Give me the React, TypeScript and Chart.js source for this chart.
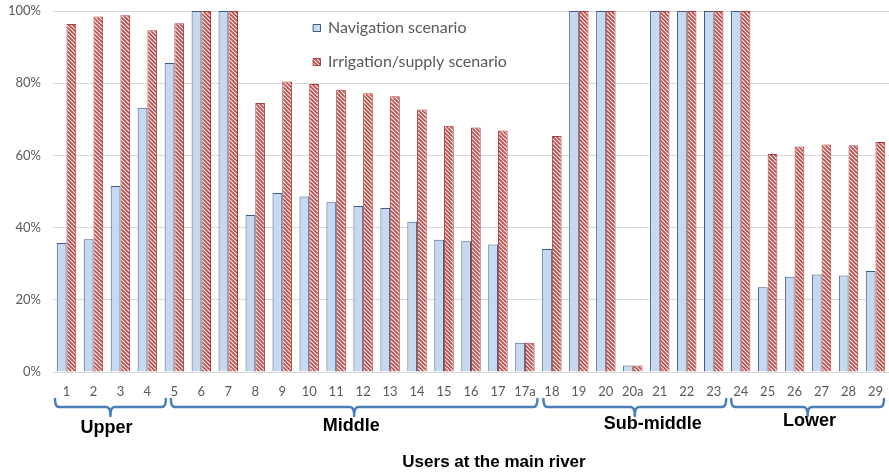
import { useEffect, useRef } from 'react';
import { Chart, registerables } from 'chart.js';

Chart.register(...registerables);

const categories = ['1', '2', '3', '4', '5', '6', '7', '8', '9', '10', '11', '12', '13', '14', '15', '16', '17', '17a', '18', '19', '20', '20a', '21', '22', '23', '24', '25', '26', '27', '28', '29'];
const navigation = [35.7, 36.8, 51.5, 73.2, 85.6, 100, 100, 43.5, 49.6, 48.6, 47, 46, 45.4, 41.6, 36.6, 36.2, 35.3, 8.1, 34.1, 100, 100, 1.8, 100, 100, 100, 100, 23.5, 26.4, 27, 26.7, 28];
const irrigation = [96.4, 98.5, 98.8, 94.7, 96.6, 100, 100, 74.5, 80.5, 79.8, 78.2, 77.2, 76.4, 72.7, 68.2, 67.7, 66.9, 8.1, 65.4, 100, 100, 1.8, 100, 100, 100, 100, 60.4, 62.5, 63, 62.8, 63.7];
const seriesNames = ['Navigation scenario', 'Irrigation/supply scenario'];
const groupNames = ['Upper', 'Middle', 'Sub-middle', 'Lower'];
const groupFirst = ['1', '5', '18', '24'];
const groupLast = ['4', '17a', '23', '29'];
const xTitle = 'Users at the main river';
const yMin = 0;
const yMax = 100;
const yStep = 20;

function makeHatch(): CanvasPattern | string {
  const c = document.createElement('canvas');
  c.width = 4;
  c.height = 4;
  const g = c.getContext('2d');
  if (!g) return '#c0504d';
  g.fillStyle = '#ffffff';
  g.fillRect(0, 0, 4, 4);
  g.strokeStyle = '#c0504d';
  g.lineWidth = 1.9;
  g.beginPath();
  g.moveTo(-1, -1);
  g.lineTo(5, 5);
  g.moveTo(-1, 3);
  g.lineTo(1, 5);
  g.moveTo(3, -1);
  g.lineTo(5, 1);
  g.stroke();
  const p = g.createPattern(c, 'repeat');
  return p || '#c0504d';
}

const FONT = 'Lato, "Open Sans", sans-serif';
const BOLD = '"Liberation Sans", Arial, sans-serif';

export default function App() {
  const ref = useRef<HTMLCanvasElement | null>(null);

  useEffect(() => {
    document.body.style.margin = '0';
    const canvas = ref.current;
    if (!canvas) return;
    const hatch = makeHatch();

    const decor = {
      id: 'decor',
      afterDraw(chart: any) {
        const ctx = chart.ctx as CanvasRenderingContext2D;
        const x = chart.scales.x;
        const area = chart.chartArea;
        const cw = (area.right - area.left) / categories.length;
        ctx.save();
        // brackets
        const labelDx = [-4, -3, 18, 2];
        const labelY = [428, 426, 424, 421];
        const startInset = [2, 10, 5, 4];
        const endInset = [-5, 1, 1, 5];
        groupNames.forEach((name, i) => {
          const a = categories.indexOf(groupFirst[i]);
          const b = categories.indexOf(groupLast[i]);
          const l = x.getPixelForValue(a) - cw / 2 + startInset[i];
          const r = x.getPixelForValue(b) + cw / 2 - endInset[i];
          const c = (l + r) / 2;
          const yt = 399;
          const yh = 407;
          const yb = 416;
          ctx.strokeStyle = '#4a7ebb';
          ctx.lineWidth = 2.5;
          ctx.lineCap = 'round';
          ctx.lineJoin = 'round';
          ctx.beginPath();
          ctx.moveTo(l, yt);
          ctx.quadraticCurveTo(l, yh, l + 4, yh);
          ctx.lineTo(c - 4, yh);
          ctx.quadraticCurveTo(c, yh, c, yb);
          ctx.moveTo(c, yb);
          ctx.quadraticCurveTo(c, yh, c + 4, yh);
          ctx.lineTo(r - 4, yh);
          ctx.quadraticCurveTo(r, yh, r, yt);
          ctx.stroke();
          ctx.fillStyle = '#000000';
          ctx.font = `bold 18px ${BOLD}`;
          ctx.textAlign = 'center';
          ctx.textBaseline = 'middle';
          ctx.fillText(name, c + labelDx[i], labelY[i]);
        });
        // axis title
        ctx.font = `bold 17px ${BOLD}`;
        ctx.fillStyle = '#000000';
        ctx.textAlign = 'center';
        ctx.textBaseline = 'middle';
        ctx.fillText(xTitle, (area.left + area.right) / 2 + 23, 462);
        // legend
        const items = chart.data.datasets;
        ctx.fillStyle = '#ffffff';
        ctx.fillRect(300, 13, 265, 68);
        items.forEach((ds: any, i: number) => {
          const cy = 28 + i * 34;
          ctx.fillStyle = ds.backgroundColor;
          ctx.fillRect(313, cy - 4, 8, 8);
          ctx.strokeStyle = ds.borderColor;
          ctx.lineWidth = 1;
          ctx.strokeRect(313.5, cy - 3.5, 7, 7);
          ctx.fillStyle = '#595959';
          ctx.font = `16px ${FONT}`;
          ctx.textAlign = 'left';
          ctx.textBaseline = 'middle';
          ctx.fillText(ds.label, 328, cy);
        });
        ctx.restore();
      },
    };

    const chart = new Chart(canvas, {
      type: 'bar',
      data: {
        labels: categories,
        datasets: [
          {
            label: seriesNames[0],
            data: navigation,
            backgroundColor: '#c6d9f1',
            borderColor: '#385d8a',
            borderWidth: 1,
            categoryPercentage: 0.72,
            barPercentage: 1,
          },
          {
            label: seriesNames[1],
            data: irrigation,
            backgroundColor: hatch as any,
            borderColor: '#a9403d',
            borderWidth: 1,
            categoryPercentage: 0.72,
            barPercentage: 1,
          },
        ],
      },
      options: {
        animation: false,
        responsive: true,
        maintainAspectRatio: false,
        layout: { padding: { top: 11, left: 0, right: 0, bottom: 0 } },
        plugins: {
          legend: { display: false },
          tooltip: { enabled: false },
        },
        scales: {
          x: {
            grid: { display: false },
            border: { display: false },
            ticks: {
              color: '#595959',
              font: { family: FONT, size: 13 },
              maxRotation: 0,
              autoSkip: false,
              padding: 4,
            },
            afterFit: (s: any) => {
              s.height = 101;
              s.paddingLeft = 0;
              s.paddingRight = 0;
            },
          },
          y: {
            min: yMin,
            max: yMax,
            grid: { color: '#d9d9d9', drawTicks: false },
            border: { display: false },
            ticks: {
              stepSize: yStep,
              color: '#595959',
              font: { family: FONT, size: 13 },
              padding: 12,
              callback: (v: any) => `${v}%`,
            },
            afterFit: (s: any) => {
              s.width = 53;
              s.paddingTop = 0;
              s.paddingBottom = 0;
            },
          },
        },
      },
      plugins: [decor],
    });

    return () => chart.destroy();
  }, []);

  return (
    <div style={{ position: 'relative', width: 889, height: 473 }}>
      <canvas ref={ref} />
    </div>
  );
}
